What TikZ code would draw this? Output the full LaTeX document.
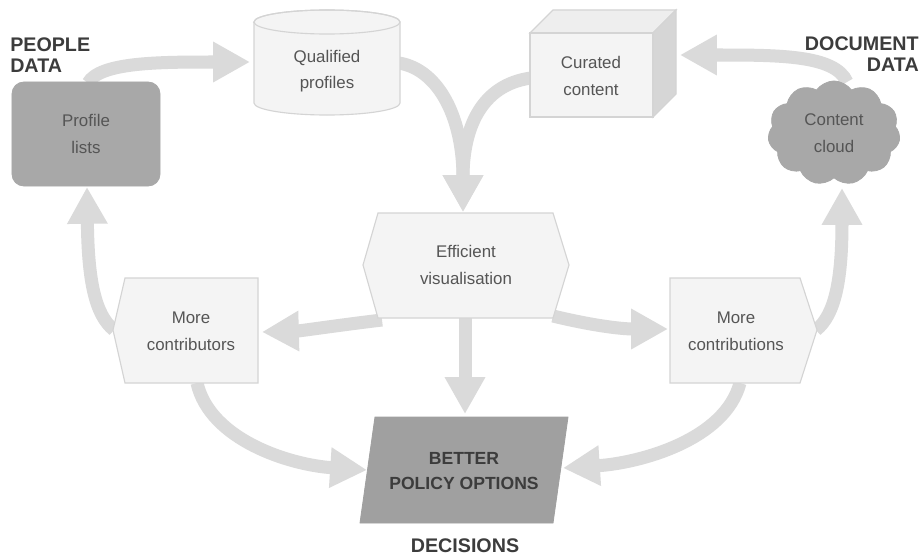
\documentclass[tikz,border=0pt]{standalone}
\usepackage{fontspec}
\setmainfont{Liberation Sans}
\usetikzlibrary{arrows.meta,shapes.symbols,shapes.geometric}
\pgfdeclarelayer{bottom}
\pgfdeclarelayer{background}
\pgfsetlayers{bottom,background,main}
\definecolor{arr}{HTML}{DADADA}
\definecolor{lightfill}{HTML}{F4F4F4}
\definecolor{lightedge}{HTML}{D4D4D4}
\definecolor{darkfill}{HTML}{A8A8A8}
\definecolor{cubetop}{HTML}{EEEEEE}
\definecolor{cubeside}{HTML}{D6D6D6}
\definecolor{txt}{HTML}{555555}
\definecolor{lbl}{HTML}{3C3C3C}
\begin{document}
\begin{tikzpicture}[x=0.025cm,y=-0.025cm,
  flow/.style={draw=arr, line width=0.325cm, -{Triangle[length=0.92cm,width=0.95cm]}},
  lightshape/.style={fill=lightfill, draw=lightedge, line width=0.8pt},
  darkshape/.style={fill=darkfill, draw=darkfill, line width=0.6pt},
  body/.style={text=txt, font=\fontsize{12}{19}\selectfont, align=center, inner sep=0pt},
  tagtext/.style={text=lbl, font=\bfseries\fontsize{14}{15}\selectfont, inner sep=0pt},
  policy/.style={text=lbl, font=\bfseries\fontsize{12.5}{17.5}\selectfont, align=center, inner sep=0pt},
]
\useasboundingbox (0,0) rectangle (920,558);
\begin{pgfonlayer}{bottom}
\fill[white] (0,0) rectangle (920,558);
\end{pgfonlayer}

% Profile lists
\node[darkshape, rounded corners=0.3cm, minimum width=3.7cm, minimum height=2.6cm, body, text=txt] (pl) at (86,134) {Profile\\lists};

% Qualified profiles (cylinder)
\path[lightshape] (254,22) -- (254,103) arc[start angle=180,end angle=360,x radius=1.825cm,y radius=0.3cm] -- (400,22) arc[start angle=0,end angle=180,x radius=1.825cm,y radius=0.3cm] -- cycle;
\draw[draw=lightedge, line width=0.8pt] (327,22) ellipse[x radius=1.825cm, y radius=0.3cm];
\node[body] (qp) at (327,71) {Qualified\\profiles};

% Curated content (cube)
\path[lightshape, fill=cubetop] (530,33) -- (553,10) -- (676,10) -- (653,33) -- cycle;
\path[lightshape, fill=cubeside] (653,33) -- (676,10) -- (676,94) -- (653,117) -- cycle;
\path[lightshape] (530,33) rectangle (653,117);
\node[body] (cu) at (591,76) {Curated\\content};

% Content cloud
\node[cloud, cloud puffs=11, cloud puff arc=110, aspect=1.3, minimum width=3.3cm, minimum height=2.6cm, darkshape, body, text=txt] (cc) at (834,133) {Content\\cloud};

% Efficient visualisation
\path[lightshape] (363,265) -- (378,213) -- (553,213) -- (569,265) -- (553,318) -- (378,318) -- cycle;
\node[body] (ev) at (466,265) {Efficient\\visualisation};

% More contributors
\path[lightshape] (113,330) -- (125,278) -- (258,278) -- (258,383) -- (125,383) -- cycle;
\node[body] (mc) at (191,331) {More\\contributors};

% More contributions
\path[lightshape] (670,278) -- (800,278) -- (817,330) -- (800,383) -- (670,383) -- cycle;
\node[body] (mn) at (736,331) {More\\contributions};

% Better policy options
\path[darkshape, fill=darkfill!95!black, draw=darkfill!95!black] (375,417) -- (568,417) -- (553,523) -- (360,523) -- cycle;
\node[policy] (bp) at (464,471) {BETTER\\POLICY OPTIONS};

% Labels
\node[tagtext, anchor=north west, align=left] (pdl) at (10,37) {PEOPLE\\DATA};
\node[tagtext, anchor=north east, align=right] (ddl) at (919,36) {DOCUMENT\\DATA};
\node[tagtext] (dec) at (465,546) {DECISIONS};

% connector end coordinates
\coordinate (qp-w) at (250,62);
\coordinate (qp-e) at (399,63);
\coordinate (cu-w) at (531,78);
\coordinate (cu-e) at (680,55);
\coordinate (ev-n) at (463,212);
\coordinate (ev-s) at (465,318);
\coordinate (ev-sw) at (382,320);
\coordinate (ev-se) at (553,316);
\coordinate (mc-e) at (262,332);
\coordinate (mc-w) at (114,330);
\coordinate (mc-s) at (197,383);
\coordinate (mn-w) at (668,329);
\coordinate (mn-e) at (816,330);
\coordinate (mn-s) at (740,383);
\coordinate (bp-n) at (465,414);
\coordinate (bp-w) at (367,470);
\coordinate (bp-e) at (563,468);
\coordinate (pl-n) at (88,83);
\coordinate (pl-s) at (87,187);
\coordinate (cc-n) at (847,82);
\coordinate (cc-s) at (842,188);

\begin{pgfonlayer}{background}
\draw[flow] (pl-n) .. controls (100,62) and (160,62) .. (qp-w);
\draw[flow] (qp-e) .. controls (440,70) and (463,120) .. (ev-n);
\draw[flow] (cu-w) .. controls (480,85) and (463,130) .. (ev-n);
\draw[flow] (cc-n) .. controls (835,55) and (780,55) .. (cu-e);
\draw[flow] (ev-sw) .. controls (340,325) and (300,331) .. (mc-e);
\draw[flow] (ev-se) .. controls (590,325) and (620,329) .. (mn-w);
\draw[flow] (ev-s) -- (bp-n);
\draw[flow] (mc-w) .. controls (95,315) and (88,280) .. (pl-s);
\draw[flow] (mn-e) .. controls (835,315) and (842,280) .. (cc-s);
\draw[flow] (mc-s) .. controls (210,440) and (290,465) .. (bp-w);
\draw[flow] (mn-s) .. controls (725,440) and (640,463) .. (bp-e);
\end{pgfonlayer}
\end{tikzpicture}
\end{document}
